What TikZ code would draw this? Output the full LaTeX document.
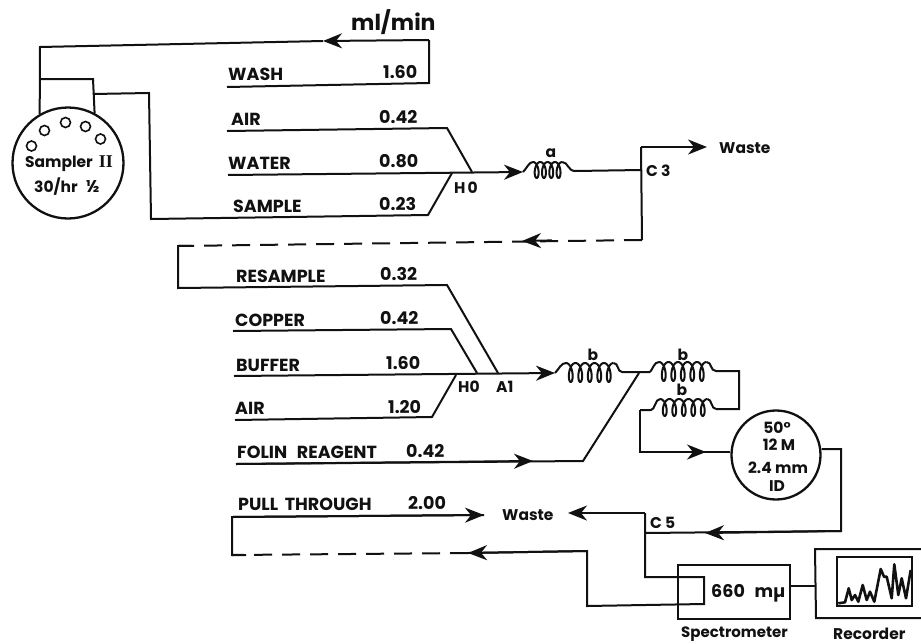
\documentclass[tikz,border=0pt]{standalone}
\usepackage{fontspec}
\setmainfont{Poppins}
\newfontfamily\romanfont{Liberation Serif}
\usetikzlibrary{arrows.meta}
\definecolor{ink}{HTML}{111111}
\tikzset{
  flow/.style={draw=ink,line width=2pt},
  tube/.style={flow,line join=miter},
  head/.style={flow,-{Stealth[length=19pt,width=15pt,inset=6pt]}},
  brk/.style={flow,dash pattern=on 18pt off 10pt},
  lab/.style={anchor=base west,inner sep=0pt,text=ink,font=\fontsize{15.5}{18}\selectfont\bfseries},
  caplab/.style={lab,font=\fontsize{17.5}{20}\selectfont\bfseries},
  mid/.style={anchor=base,inner sep=0pt,text=ink,font=\fontsize{15.5}{18}\selectfont\bfseries},
  hole/.style={circle,draw=ink,line width=1.6pt,minimum size=10pt,inner sep=0pt},
  disc/.style={circle,draw=ink,line width=2.3pt,inner sep=0pt},
  panel/.style={draw=ink,line width=2pt}
}
% #1 left x, #3 top y, #4 bottom y, #5 loops, #6 spacing, #7 loop half width
\newcommand{\coilshape}[7]{%
  \draw[flow,line join=round] plot[samples=#5*32+1,domain=0:360*#5]
    ({#1+#6*(\x/360)+#7*sin(\x)},{(#3+#4)/2-(#4-#3)/2*cos(\x)});
}
\begin{document}
\begin{tikzpicture}[x=1pt,y=-1pt]
\useasboundingbox (0,0) rectangle (921,643);
\fill[white] (0,0) rectangle (921,643);

% --- named points
\foreach \n/\x/\y in {
 washR/429/83, washL/227/87, topR/429/40, topTip/323/41, topL/40/47, boxA/40/79, boxB/93/79,
 sampOut/93/94, sampC/149/93, sampD/151/219, sampE/428/215, sampF/452/173,
 airL/227/131, airM/447/128, airE/472/172, watL/228/175, coilaIn/523/172,
 coilaOut/575/171, cthree/641/170, wasteC/641/147, wasteTip/707/147,
 cthreeB/642/240, dashHead/552/240.4, dashTip/522/241, dashL/178/246, dashLb/192/245.8, resD/178/288, resM/447/285, resE/498/373,
 copL/233/331, copM/451/329, copE/477/373, bufL/234/376, bufTip/555/373, 
 airtL/235/420, airtM/432/417, airtE/456/375,
 folL/236/464, folTip/533/461, folM/583/461, folE/639/373,
 bonOut/622/372, btwoIn/650/372, btwoOut/716/371, loopR/739/371, loopRb/739/409,
 bthreeOut/716/409, bthreeIn/651/410, loopL/640/410, loopLb/640/452, colTip/706/452,
 colOutB/841/449, colOutC/841/531, cfTip/705/533, cf/645/533,
 cfTop/645/513, wTip/568/513, cfLow/645/577, specIn/704/577, specInB/704/604,
 specOut/587/606, specOutB/587/551, retTip/468/553, retL/232/555, retLb/246/555, retU/232/517, pullTip/484/515}
 {\coordinate (\n) at (\x,\y);}

% --- sampler
\node[disc,minimum size=111pt] (sampler) at (68,163) {};
\foreach \n/\x/\y in {ha/31.5/146, hb/44.5/130.5, hc/65.5/122.5, hd/85.5/126.5, he/100.5/139}
 \node[hole] (\n) at (\x,\y) {};
\node[lab,anchor=base] (samplerlab) at (59,167) {Sampler};
\node[anchor=base,inner sep=0pt,text=ink,font=\fontsize{18}{18}\selectfont\romanfont\bfseries] (samplernum) at (106,167) {II};
\node[mid] (ratelab) at (67,192) {30/hr\hspace{8pt}{\fontsize{17}{18}\selectfont ½}};

% --- first stage tubes
\draw[tube] (washL) -- (washR) -- (topR);
\draw[head] (topR) -- (topTip);
\draw[tube] (topTip) -- (topL) -- (sampler.120);
\draw[tube] (boxA) -- (boxB) -- (sampler.62);
\draw[tube] (sampOut) -- (sampC) -- (sampD) -- (sampE) -- (sampF);
\draw[tube] (airL) -- (airM) -- (airE);
\draw[head] (watL) -- (coilaIn);
\coilshape{533}{172}{162}{178}{4}{7.3}{3.6}
\draw[tube] (coilaIn) .. controls (527,168) and (529,162) .. (533,162);
\draw[tube] (562.2,162) .. controls (568,162) and (568,171) .. (coilaOut) -- (cthree);
\draw[tube] (wasteC) -- (cthreeB);
\draw[head] (wasteC) -- (wasteTip);
\draw[brk] (cthreeB) -- (dashL);
\draw[head] (dashHead) -- (dashTip);
\draw[tube] (dashLb) -- (dashL) -- (resD) -- (resM) -- (resE);

% --- second stage tubes
\draw[tube] (copL) -- (copM) -- (copE);
\draw[head] (bufL) -- (bufTip);
\draw[tube] (airtL) -- (airtM) -- (airtE);
\draw[tube] (folL) -- (folM) -- (folE);
\draw[head] (folL) -- (folTip);
\coilshape{566}{373}{363}{382}{5}{9.5}{4}
\draw[tube] (bufTip) .. controls (559,369) and (561,363) .. (566,363);
\draw[tube] (613.5,363) .. controls (619,363) and (617,372) .. (bonOut) -- (btwoIn);
\coilshape{659}{372}{362}{381}{5}{9.5}{4}
\draw[tube] (btwoIn) .. controls (653,369) and (654,362) .. (659,362);
\draw[tube] (706.5,362) .. controls (712,362) and (710,371) .. (btwoOut) -- (loopR) -- (loopRb) -- (bthreeOut);
\coilshape{660}{409}{399}{416}{5}{9.5}{4}
\draw[tube] (loopL) -- (bthreeIn) .. controls (655,410) and (655,399) .. (660,399);
\draw[tube] (707.5,399) .. controls (712,399) and (711,409) .. (bthreeOut);

% --- column
\node[disc,minimum size=89pt] (column) at (776,455) {};
\draw[tube] (loopL) -- (loopLb) -- (column.west |- loopLb);
\draw[head] (loopLb) -- (colTip);
\draw[tube] (column.east |- colOutB) -- (colOutB) -- (colOutC) -- (cf);
\draw[head] (colOutC) -- (cfTip);
\draw[tube] (cfTop) -- (cfLow) -- (specIn) -- (specInB) -- (specOut) -- (specOutB) -- (retTip);
\draw[head] (cfTop) -- (wTip);
\draw[head] (specOutB) -- (retTip);
\draw[brk] (retTip) -- (retL);
\draw[tube] (retLb) -- (retL) -- (retU) -- (pullTip);
\draw[head] (retU) -- (pullTip);

% --- instruments
\node[panel,minimum width=112pt,minimum height=54pt,inner sep=0pt] (spec) at (734,592) {};
\draw[panel] (921,549) -- (815,549) -- (816,618) -- (921,618);
\coordinate (recL) at (815.5,586);
\draw[tube] (spec.east |- recL) -- (recL);
\node[panel,minimum width=75pt,minimum height=49pt,inner sep=0pt] (screen) at (874.5,581.5) {};
\draw[flow,line width=2.6pt,line join=round]
 (838.3,603.3) -- (845,602.3) -- (848.7,588.3) -- (851.7,600) -- (855,595) -- (858.3,601.7) -- (862.7,585) -- (866.7,600)
 -- (870,591.7) -- (874.3,601.7) -- (880.7,569) -- (884,576.7) -- (886.7,576.7) -- (891.7,598.3) -- (894.3,564.3)
 -- (898.3,595) -- (901.7,578.3) -- (906,598.3) -- (910.7,570);

% --- labels
\node[anchor=base west,inner sep=0pt,text=ink,font=\fontsize{22}{24}\selectfont\bfseries] (unit) at (351,30) {ml/min};
\foreach \n/\x/\y/\t in {
 lwash/228/80/WASH, vwash/383/78/1.60, lair/231/125/AIR, vair/379/123/0.42, lwat/228/169/WATER, vwat/379/167/0.80,
 lsam/233/212/SAMPLE, vsam/379/210/0.23,
 lres/236/282/RESAMPLE, vres/380/280/0.32, lcop/235/326/COPPER, vcop/380/324/0.42, lbuf/236/371/BUFFER, vbuf/386/369/1.60,
 lairt/235/414/AIR, vairt/388/413/1.20, lfol/237/458/FOLIN\hspace{6pt} REAGENT, vfol/406/457/0.42,
 lpull/238/510/PULL\hspace{3pt} THROUGH, vpull/408/509/2.00}
 {\node[caplab] (\n) at (\x,\y) {\t};}
\foreach \n/\x/\y/\t in {
 lho/454/193/H\hspace{2pt}0, lcthree/646/176/C\hspace{3pt}3, lwaste/719/153/Waste, lhot/458/392/H0, laone/496/392/A1,
 lwastetwo/502/520/Waste, lcf/650/528/C\hspace{3pt}5, lrec/833/639/Recorder}
 {\node[lab] (\n) at (\x,\y) {\t};}
\node[caplab] (lspec) at (711,597) {660\hspace{6pt} mµ};
\node[lab,font=\fontsize{15}{18}\selectfont\bfseries] (lspn) at (681,637) {Spectrometer};
\foreach \n/\x/\y/\t in {
 coa/551/157/a, cob/593/360/b, coc/683/360/b, cod/682/395/b,
 ta/777/433/50°, tb/779/450/12 M, tc/778/473/2.4 mm, td/777/491/ID}
 {\node[mid] (\n) at (\x,\y) {\t};}
\end{tikzpicture}
\end{document}
